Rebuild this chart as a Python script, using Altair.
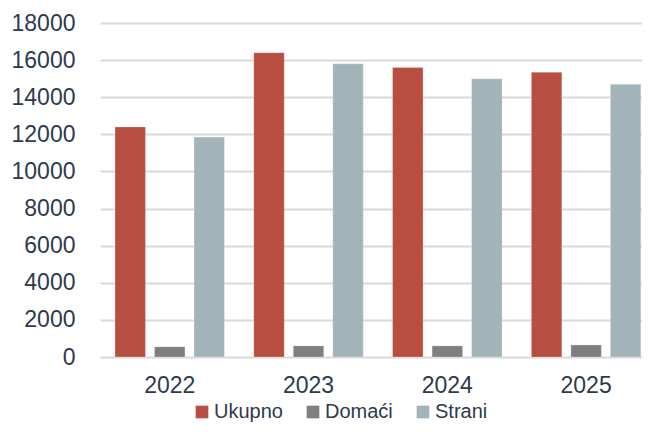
import altair as alt
import pandas as pd

years = ["2022", "2023", "2024", "2025"]
series = ["Ukupno", "Domaći", "Strani"]
ukupno = [12400, 16400, 15600, 15350]
domaci = [550, 600, 600, 650]
strani = [11850, 15800, 15000, 14700]
colors = ["#b84d42", "#7f7f7f", "#a2b4ba"]
y_ticks = [0, 2000, 4000, 6000, 8000, 10000, 12000, 14000, 16000, 18000]

rows = []
for i, yr in enumerate(years):
    for s, vals in zip(series, [ukupno, domaci, strani]):
        rows.append({"year": yr, "series": s, "value": vals[i]})
df = pd.DataFrame(rows)

text_color = "#2e3a4c"

chart = (
    alt.Chart(df)
    .mark_bar(stroke="white", strokeWidth=0.8, strokeOpacity=0.35)
    .encode(
        x=alt.X(
            "year:N",
            sort=years,
            scale=alt.Scale(paddingInner=0.211, paddingOuter=0.058, align=0.93),
            axis=alt.Axis(
                title=None, labelAngle=0, ticks=False, domain=False,
                labelFontSize=23, labelPadding=17, labelColor=text_color,
            ),
        ),
        xOffset=alt.XOffset(
            "series:N", sort=series,
            scale=alt.Scale(paddingInner=0.228, paddingOuter=0),
        ),
        y=alt.Y(
            "value:Q",
            scale=alt.Scale(domain=[0, 18000], nice=False),
            axis=alt.Axis(
                values=y_ticks, format="d", title=None, ticks=False, domain=False,
                labelFontSize=23, labelPadding=25, labelColor=text_color,
                gridColor="#d9d9d9", gridWidth=2,
            ),
        ),
        color=alt.Color(
            "series:N",
            sort=series,
            scale=alt.Scale(domain=series, range=colors),
            legend=alt.Legend(
                title=None, orient="none", legendX=92, legendY=379,
                direction="horizontal", symbolType="square", symbolSize=160,
                labelFontSize=20, labelColor=text_color, columnPadding=20,
                labelOffset=2, symbolStrokeWidth=0, symbolOpacity=1,
            ),
        ),
    )
    .properties(
        width=542, height=334,
        padding={"left": 92, "top": 15, "right": 0, "bottom": 67},
        autosize=alt.AutoSizeParams(type="none"),
    )
    .configure(font="Liberation Sans")
    .configure_view(stroke=None)
)

chart.save("out.html", embed_options={"renderer": "svg", "actions": False})
